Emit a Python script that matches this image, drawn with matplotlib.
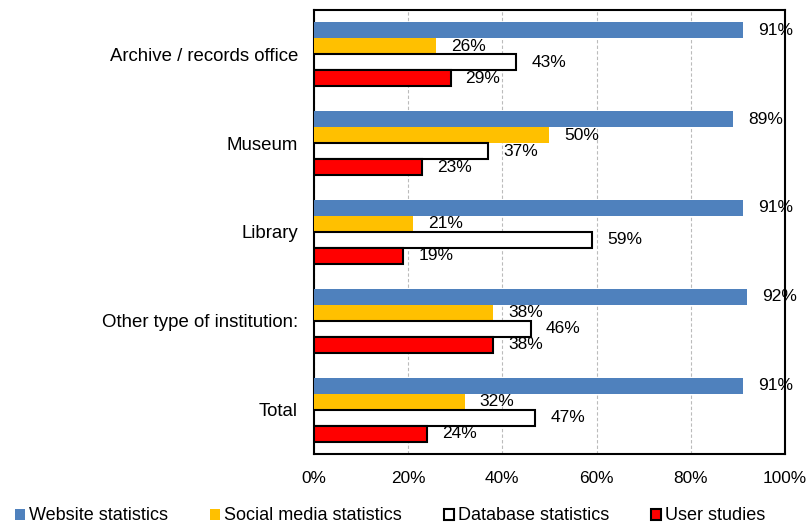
import matplotlib.pyplot as plt
import numpy as np

categories = ["Archive / records office", "Museum", "Library", "Other type of institution:", "Total"]
website = [91, 89, 91, 92, 91]
social = [26, 50, 21, 38, 32]
database = [43, 37, 59, 46, 47]
user = [29, 23, 19, 38, 24]
series_names = ["Website statistics", "Social media statistics", "Database statistics", "User studies"]

plt.rcParams['font.family'] = ['Liberation Sans', 'DejaVu Sans']

fig = plt.figure(figsize=(8.11, 5.23), dpi=100)
ax = fig.add_axes([0.387, 0.132, 0.581, 0.849])

y = np.arange(len(categories))
h = 0.18
styles = [
    dict(color="#4F81BD", edgecolor="none"),
    dict(color="#FFC000", edgecolor="none"),
    dict(color="white", edgecolor="black", linewidth=1.5),
    dict(color="#FF0000", edgecolor="black", linewidth=1.5),
]
handles = []
for i, (vals, st) in enumerate(zip([website, social, database, user], styles)):
    pos = y - 1.5 * h + i * h
    bars = ax.barh(pos, vals, height=h, label=series_names[i], zorder=3, **st)
    handles.append(bars)
    for p, v in zip(pos, vals):
        ax.text(v + 3.2, p, f"{v}%", va="center", ha="left", fontsize=12.5, zorder=4)

ax.set_xlim(0, 100)
ax.set_ylim(len(categories) - 0.5, -0.5)
ax.set_xticks(range(0, 101, 20))
ax.set_xticklabels([f"{t}%" for t in range(0, 101, 20)], fontsize=12.4)
ax.set_yticks(y)
ax.set_yticklabels(categories, fontsize=13.4)
ax.tick_params(axis='y', length=0, pad=11.5)
ax.tick_params(axis='x', length=0, pad=12)
ax.xaxis.grid(True, linestyle=(0, (3, 2)), color="#BBBBBB", linewidth=0.8, zorder=0)
for s in ax.spines.values():
    s.set_linewidth(1.5)

fig.legend(handles, series_names, loc="center left", bbox_to_anchor=(15 / 811, 1 - 516 / 523), ncol=4,
           frameon=False, borderpad=0, borderaxespad=0, handlelength=0.55, handleheight=0.55,
           handletextpad=0.25, columnspacing=2.3, fontsize=13)

fig.savefig("out.png", dpi=100)
